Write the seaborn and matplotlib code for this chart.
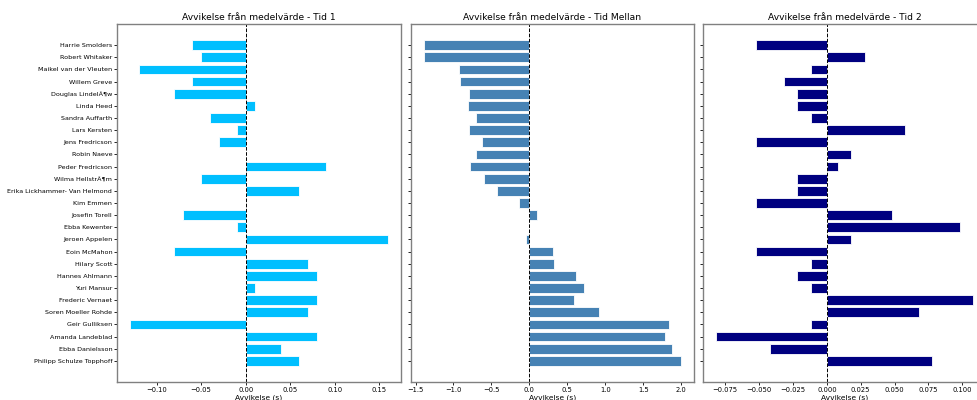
import pandas as pd
import seaborn as sns
import matplotlib
matplotlib.use("Agg")
import matplotlib.pyplot as plt

riders = [
    "Harrie Smolders", "Robert Whitaker", "Maikel van der Vleuten", "Willem Greve",
    "Douglas LindelÃ¶w", "Linda Heed", "Sandra Auffarth", "Lars Kersten",
    "Jens Fredricson", "Robin Naeve", "Peder Fredricson", "Wilma HellstrÃ¶m",
    "Erika Lickhammer- Van Helmond", "Kim Emmen", "Josefin Torell", "Ebba Kewenter",
    "Jeroen Appelen", "Eoin McMahon", "Hilary Scott", "Hannes Ahlmann",
    "Yuri Mansur", "Frederic Vernaet", "Soren Moeller Rohde", "Geir Gulliksen",
    "Amanda Landeblad", "Ebba Danielsson", "Philipp Schulze Topphoff",
]

tid1 = [-0.06, -0.05, -0.12, -0.06, -0.08, 0.01, -0.04, -0.01, -0.03, 0.0,
        0.09, -0.05, 0.06, 0.0, -0.07, -0.01, 0.16, -0.08, 0.07, 0.08,
        0.01, 0.08, 0.07, -0.13, 0.08, 0.04, 0.06]

tid_mellan = [-1.39, -1.39, -0.93, -0.91, -0.80, -0.81, -0.70, -0.79, -0.63, -0.70,
              -0.78, -0.60, -0.43, -0.14, 0.10, 0.0, -0.05, 0.31, 0.33, 0.62,
              0.72, 0.59, 0.92, 1.84, 1.79, 1.88, 2.00]

tid2 = [-0.052, 0.028, -0.012, -0.032, -0.022, -0.022, -0.012, 0.058, -0.052, 0.018,
        0.008, -0.022, -0.022, -0.052, 0.048, 0.098, 0.018, -0.052, -0.012, -0.022,
        -0.012, 0.108, 0.068, -0.012, -0.082, -0.042, 0.078]

df = pd.DataFrame({"ryttare": riders, "tid1": tid1,
                   "mellan": tid_mellan, "tid2": tid2})

panels = [
    ("tid1", "Avvikelse från medelvärde - Tid 1", "#00BFFF"),
    ("mellan", "Avvikelse från medelvärde - Tid Mellan", "steelblue"),
    ("tid2", "Avvikelse från medelvärde - Tid 2", "navy"),
]

# axes placed to match the (cropped) original layout
positions = [
    [0.1198, 0.045, 0.2907, 0.895],
    [0.4207, 0.045, 0.2897, 0.895],
    [0.7195, 0.045, 0.2897, 0.895],
]

fig = plt.figure(figsize=(9.77, 4.0), dpi=100)
n = len(riders)
pad = 0.05 * (n - 1 + 0.8)

for i, ((col, title, color), pos) in enumerate(zip(panels, positions)):
    ax = fig.add_axes(pos)
    sns.barplot(data=df, x=col, y="ryttare", orient="h", color=color,
                saturation=1, edgecolor="white", linewidth=0.6, ax=ax)
    ax.axvline(0, color="black", linestyle="--", linewidth=0.7)
    ax.set_ylim(n - 0.6 + pad, -0.4 - pad)
    ax.set_title(title, fontsize=6.6, pad=3)
    ax.set_xlabel("Avvikelse (s)", fontsize=5.4, labelpad=1)
    ax.set_ylabel("")
    ax.tick_params(axis="y", labelsize=4.6, length=2, width=0.6, pad=1.5)
    ax.tick_params(axis="x", labelsize=4.9, length=2, width=0.6, pad=1.5)
    if i > 0:
        ax.set_yticklabels([])
    for s in ax.spines.values():
        s.set_color("#808080")
        s.set_linewidth(1.0)

fig.savefig("out.png", dpi=100)
